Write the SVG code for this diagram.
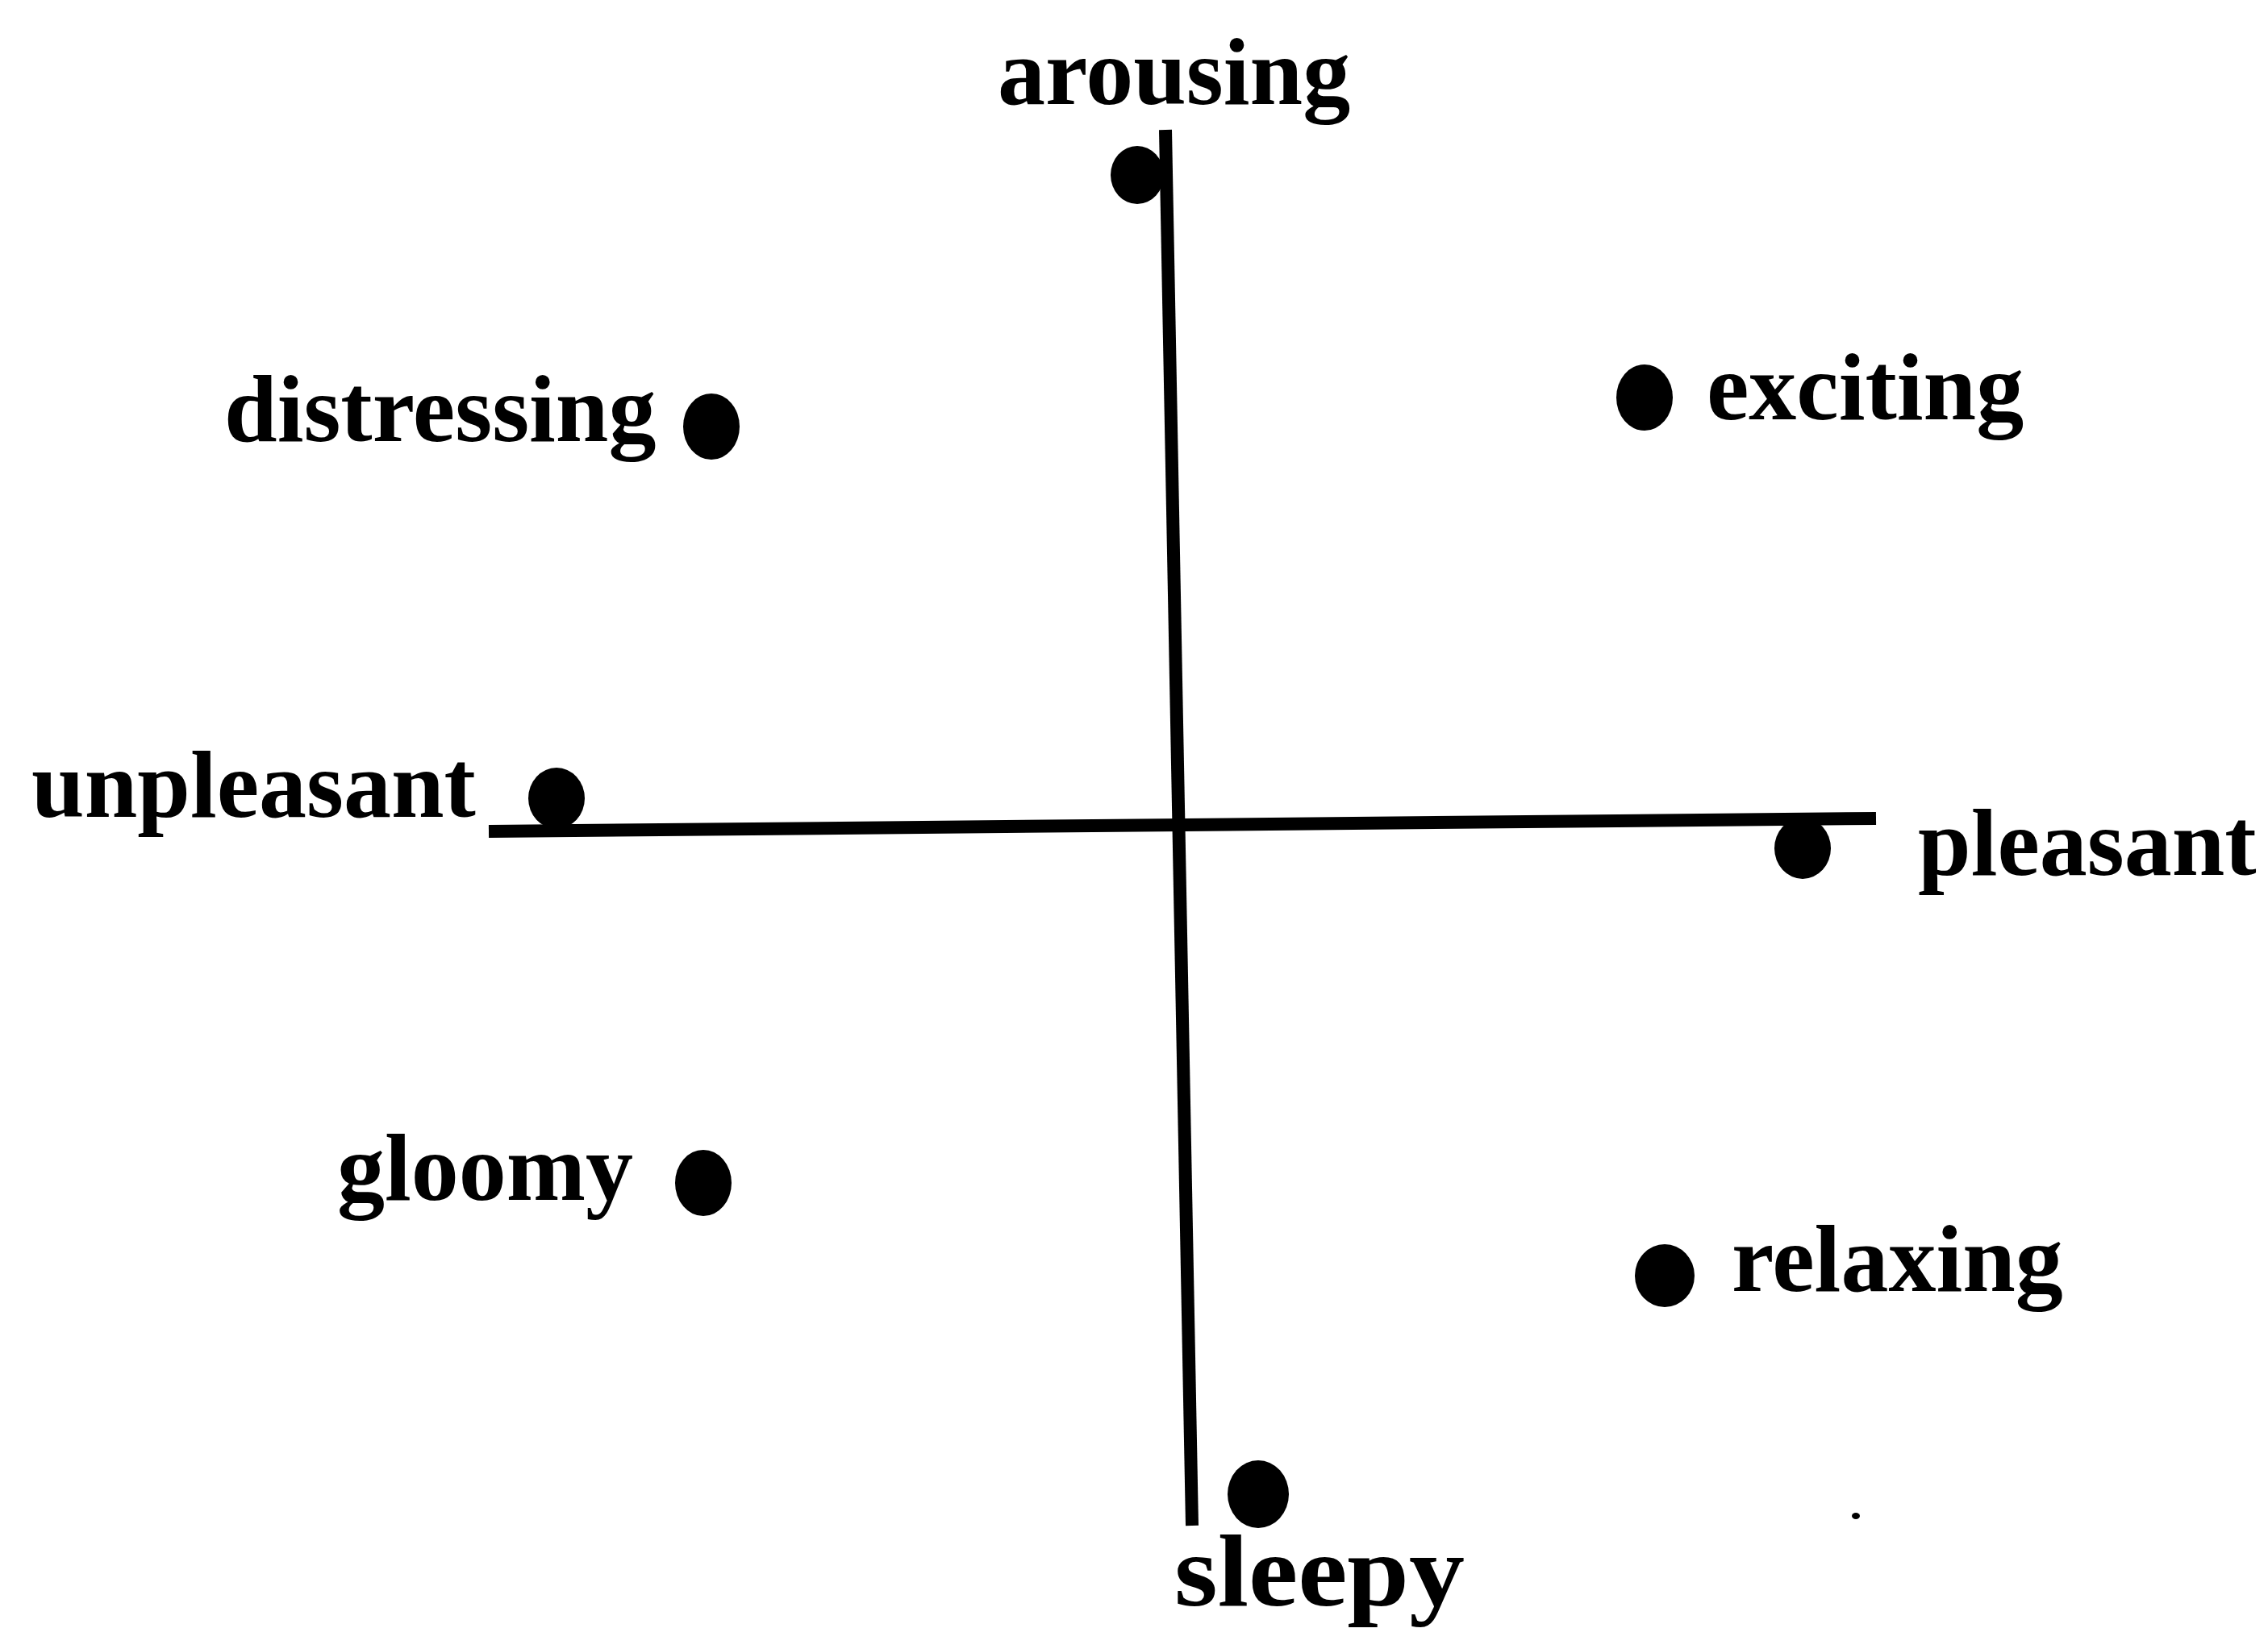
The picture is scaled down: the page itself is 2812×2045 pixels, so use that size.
<svg xmlns="http://www.w3.org/2000/svg" width="2812" height="2045" viewBox="0 0 2812 2045">
<style>
.lbl{font-family:"Liberation Serif","Times New Roman",serif;font-weight:bold;font-size:118px;fill:#000}
.dot{fill:#000}
.axis{stroke:#000;stroke-width:16;stroke-linecap:butt;fill:none}
</style>
<rect width="2812" height="2045" fill="#fff"/>
<g id="connectors">
<line class="axis" x1="1445" y1="161" x2="1478" y2="1892"/>
<line class="axis" x1="606" y1="1031" x2="2326" y2="1015"/>
</g>
<g id="arousing"><ellipse class="dot" cx="1410" cy="217" rx="33" ry="36"/><text class="lbl" x="1237" y="129">arousing</text></g>
<g id="distressing"><ellipse class="dot" cx="882" cy="529" rx="35" ry="41"/><text class="lbl" x="278" y="547">distressing</text></g>
<g id="exciting"><ellipse class="dot" cx="2039" cy="493" rx="35" ry="41"/><text class="lbl" x="2116" y="520">exciting</text></g>
<g id="unpleasant"><ellipse class="dot" cx="690" cy="990" rx="35" ry="38"/><text class="lbl" x="39" y="1013">unpleasant</text></g>
<g id="pleasant"><ellipse class="dot" cx="2235" cy="1052" rx="35" ry="38"/><text class="lbl" x="2378" y="1085">pleasant</text></g>
<g id="gloomy"><ellipse class="dot" cx="872" cy="1467" rx="35" ry="41"/><text class="lbl" x="418" y="1488">gloomy</text></g>
<g id="relaxing"><ellipse class="dot" cx="2064" cy="1582" rx="37" ry="39"/><text class="lbl" x="2147" y="1601">relaxing</text></g>
<g id="sleepy"><ellipse class="dot" cx="1560" cy="1853" rx="38" ry="42"/><text class="lbl" x="1456" y="1991" style="font-size:126px" textLength="360" lengthAdjust="spacingAndGlyphs">sleepy</text></g>
<ellipse class="dot" cx="2301" cy="1880" rx="5" ry="4"/>
</svg>
